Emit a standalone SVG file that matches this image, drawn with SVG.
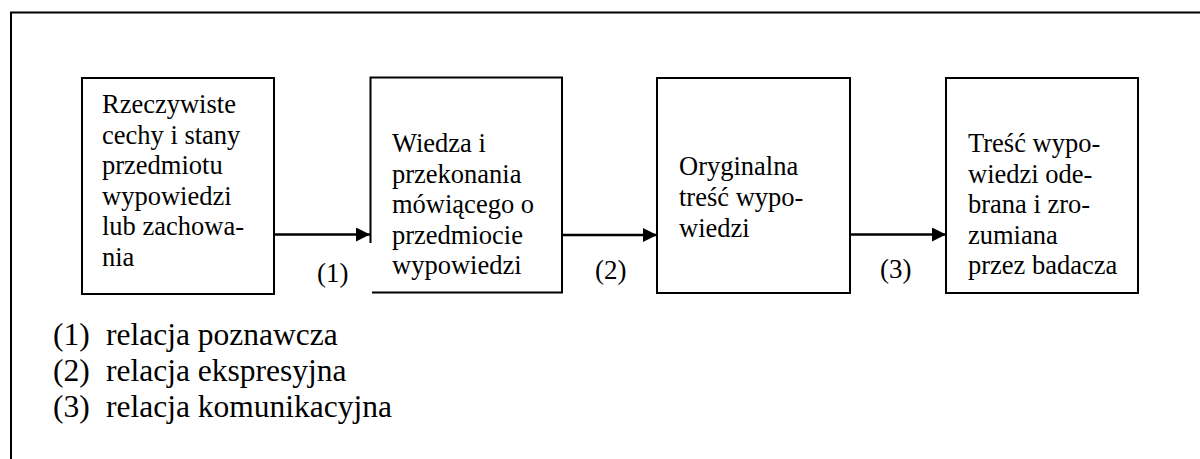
<svg xmlns="http://www.w3.org/2000/svg" width="1200" height="459" viewBox="0 0 1200 459">
<style>
text{font-family:'Liberation Serif','Times New Roman','DejaVu Serif',serif;fill:#000}
.box{fill:#fff;stroke:#000;stroke-width:2}
.t{font-size:26.5px}
.lab{font-size:27px}
.leg{font-size:31.5px}
.conn{stroke:#000;stroke-width:2.5;fill:none}
</style>
<defs>
<marker id="ah" markerUnits="userSpaceOnUse" markerWidth="15" markerHeight="15" refX="14" refY="7" orient="auto">
<path d="M0,0 L14,7 L0,14 z" fill="#000"/>
</marker>
</defs>
<rect width="1200" height="459" fill="#fff"/>
<path d="M11,459 L11,12.5 L1200,12.5" fill="none" stroke="#000" stroke-width="2"/>

<g id="node1">
<rect class="box" x="82" y="78" width="192" height="216"/>
<text class="t" font-family="Liberation Serif, serif"><tspan x="102" y="113">Rzeczywiste</tspan><tspan x="102" y="143.5">cechy i stany</tspan><tspan x="102" y="174">przedmiotu</tspan><tspan x="102" y="204.5">wypowiedzi</tspan><tspan x="102" y="235">lub zachowa-</tspan><tspan x="102" y="266">nia</tspan></text>
</g>
<g id="node2">
<rect class="box" x="370.5" y="77.5" width="191.5" height="215"/>
<text class="t"><tspan x="392" y="152">Wiedza i</tspan><tspan x="392" y="182.5">przekonania</tspan><tspan x="392" y="213">mówiącego o</tspan><tspan x="392" y="243.5">przedmiocie</tspan><tspan x="392" y="274">wypowiedzi</tspan></text>
</g>
<g id="node3">
<rect class="box" x="657" y="78" width="193" height="215"/>
<text class="t"><tspan x="679" y="175">Oryginalna</tspan><tspan x="679" y="206">treść wypo-</tspan><tspan x="679" y="237">wiedzi</tspan></text>
</g>
<g id="node4">
<rect class="box" x="946" y="78" width="192" height="215"/>
<text class="t"><tspan x="968" y="152">Treść wypo-</tspan><tspan x="968" y="182.5">wiedzi ode-</tspan><tspan x="968" y="213">brana i zro-</tspan><tspan x="968" y="243.5">zumiana</tspan><tspan x="968" y="274">przez badacza</tspan></text>
</g>

<g id="connectors">
<line class="conn" x1="274" y1="234.5" x2="370" y2="234.5" marker-end="url(#ah)"/>
<line class="conn" x1="562" y1="235" x2="657" y2="235" marker-end="url(#ah)"/>
<line class="conn" x1="850" y1="234.5" x2="946" y2="234.5" marker-end="url(#ah)"/>
<rect x="275.5" y="243" width="96.5" height="57" fill="#fff"/>
<text class="lab" x="317" y="282">(1)</text>
<text class="lab" x="595" y="279">(2)</text>
<text class="lab" x="880" y="278">(3)</text>
</g>

<g id="legend">
<text class="leg"><tspan x="53" y="345">(1)</tspan><tspan x="106" y="345">relacja poznawcza</tspan></text>
<text class="leg"><tspan x="53" y="381">(2)</tspan><tspan x="106" y="381">relacja ekspresyjna</tspan></text>
<text class="leg"><tspan x="53" y="417">(3)</tspan><tspan x="106" y="417">relacja komunikacyjna</tspan></text>
</g>
</svg>
